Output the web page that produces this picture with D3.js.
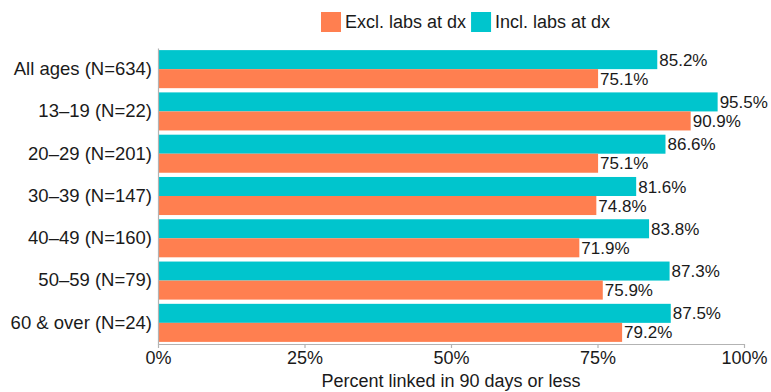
<!DOCTYPE html>
<html><head><meta charset="utf-8">
<script src="https://cdn.jsdelivr.net/npm/d3@7"></script>
<style>body{margin:0;background:#fff}svg{display:block}text{font-family:"Liberation Sans",Arial,sans-serif;fill:#1a1a1a}</style>
</head><body><svg id="c" width="771" height="392"></svg>
<script>
const categories = ["All ages (N=634)","13–19 (N=22)","20–29 (N=201)","30–39 (N=147)","40–49 (N=160)","50–59 (N=79)","60 & over (N=24)"];
const inclLabs = [85.2,95.5,86.6,81.6,83.8,87.3,87.5];
const exclLabs = [75.1,90.9,75.1,74.8,71.9,75.9,79.2];
const seriesNames = ["Excl. labs at dx","Incl. labs at dx"];
const seriesKeys = ["incl","excl"];
const colors = {excl:"#FF7F50", incl:"#00C5CD"};
const xTicks = [0,25,50,75,100];
const xTitle = "Percent linked in 90 days or less";

const svg = d3.select("#c");
const fs = 18;
const x = d3.scaleLinear().domain([0,100]).range([158,744]);
const y = d3.scaleBand().domain(categories).range([48,344]).paddingInner(0.1).paddingOuter(0.05);
const y1 = d3.scaleBand().domain(seriesKeys).range([0,y.bandwidth()]);

const data = categories.map((c,i)=>({cat:c, incl:inclLabs[i], excl:exclLabs[i]}));

const g = svg.selectAll("g.grp").data(data).join("g").attr("transform",d=>`translate(0,${y(d.cat)})`);
g.selectAll("rect").data(d=>seriesKeys.map(k=>({k,v:d[k]}))).join("rect")
  .attr("x",x(0)).attr("y",d=>y1(d.k)).attr("width",d=>x(d.v)-x(0)).attr("height",y1.bandwidth())
  .attr("fill",d=>colors[d.k]);
g.selectAll("text.val").data(d=>seriesKeys.map(k=>({k,v:d[k]}))).join("text")
  .attr("class","val").attr("x",d=>x(d.v)+2).attr("y",d=>y1(d.k)+y1.bandwidth()/2)
  .attr("dy","0.36em").style("font-size","17px").text(d=>d.v.toFixed(1)+"%");

// axes
const ax = svg.append("g").attr("transform","translate(0,344)")
  .call(d3.axisBottom(x).tickValues(xTicks).tickFormat(d=>d+"%").tickSizeInner(4).tickSizeOuter(0).tickPadding(3));
ax.select(".domain").attr("stroke","#b3b3b3").attr("stroke-width",1.2);
ax.selectAll(".tick line").attr("stroke","#b3b3b3").attr("stroke-width",1.2);
ax.selectAll(".tick text").style("font-size",fs+"px").attr("fill","#1a1a1a").style("font-family","Liberation Sans, Arial, sans-serif");

const ay = svg.append("g").attr("transform","translate(158,0)")
  .call(d3.axisLeft(y).tickSize(0).tickPadding(6));
ay.select(".domain").attr("stroke","#b3b3b3").attr("stroke-width",1.2);
ay.selectAll(".tick text").style("font-size","18.5px").attr("fill","#1a1a1a").style("font-family","Liberation Sans, Arial, sans-serif");

svg.append("text").attr("x",(x(0)+x(100))/2).attr("y",387).attr("text-anchor","middle").style("font-size",fs+"px").text(xTitle);

// legend
const leg = [{k:"excl",n:seriesNames[0]},{k:"incl",n:seriesNames[1]}];
let lx = 321;
leg.forEach(l=>{
  svg.append("rect").attr("x",lx).attr("y",12).attr("width",20).attr("height",20).attr("fill",colors[l.k]);
  const t = svg.append("text").attr("x",lx+24).attr("y",22).attr("dy","0.36em").style("font-size",fs+"px").text(l.n);
  lx = lx+24+t.node().getComputedTextLength()+5;
});
</script></body></html>
